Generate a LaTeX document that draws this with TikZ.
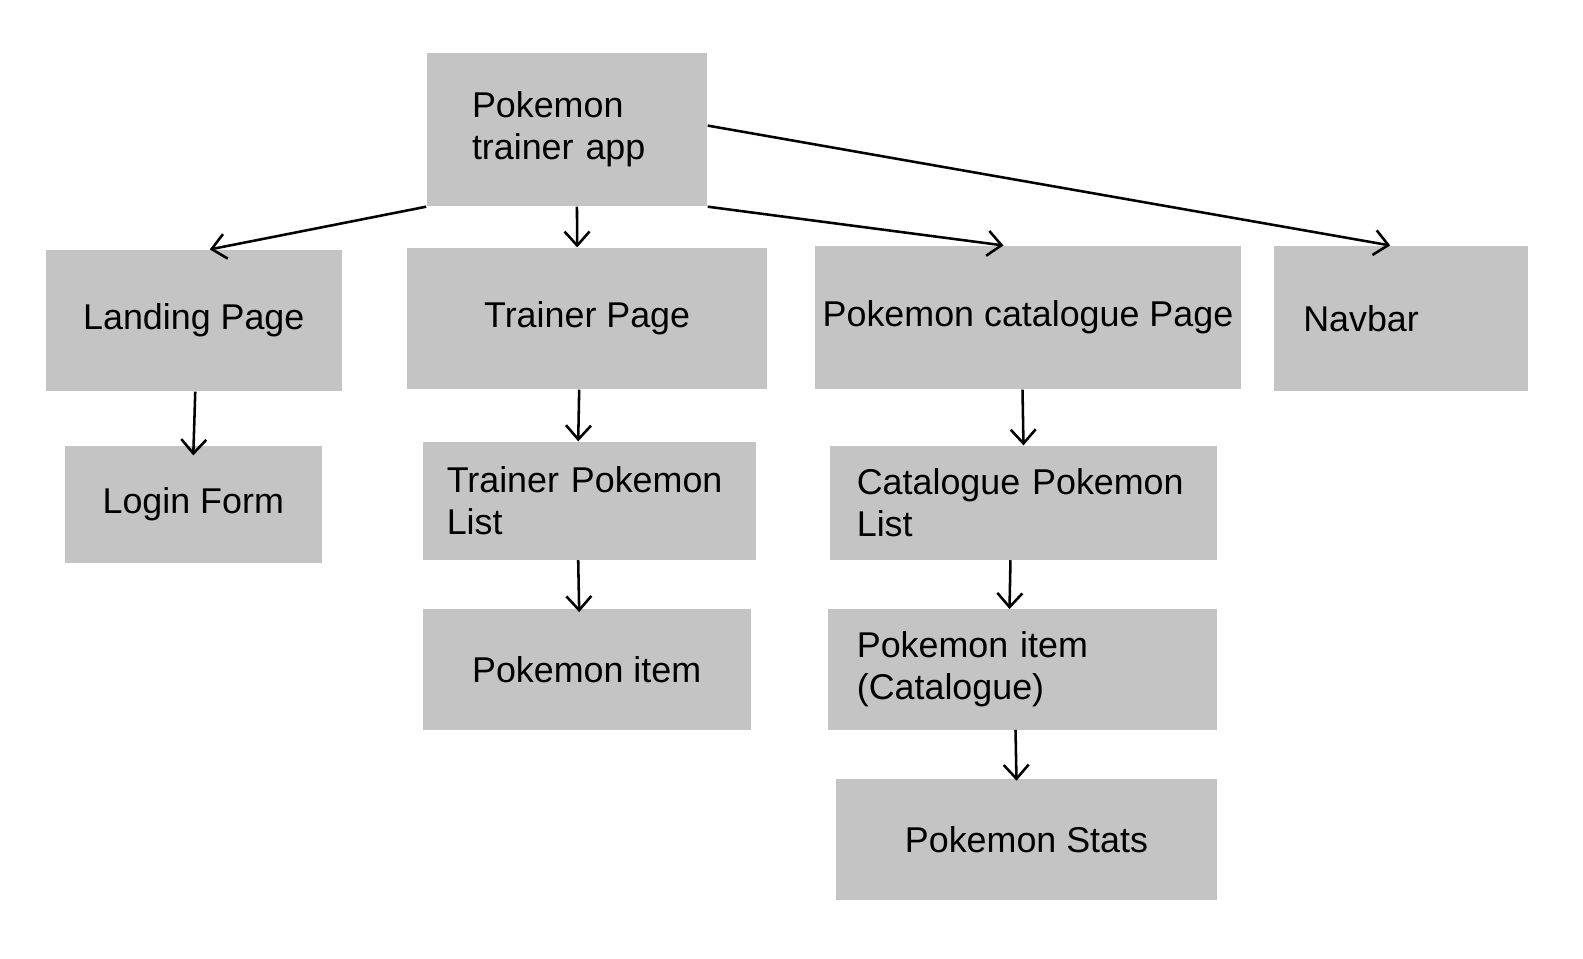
\documentclass[tikz,border=0pt]{standalone}
\usepackage{fontspec}
\setmainfont{Liberation Sans}
\usetikzlibrary{arrows.meta, positioning}

\definecolor{boxgray}{HTML}{C4C4C4}

\tikzset{
  page/.style={fill=boxgray, inner sep=0pt, anchor=north west, align=center,
    font=\fontsize{20.4}{23.8}\selectfont},
  leftpage/.style={page, align=left, inner ysep=0pt},
  link/.style={-{Straight Barb[length=0.28cm, width=0.5cm]}, line width=1.45pt}
}

\begin{document}
\begin{tikzpicture}
  \useasboundingbox (0,0) rectangle (31.66,19.16);

  % top level
  \node[leftpage, minimum width=5.616cm, minimum height=3.07cm, inner xsep=0.909cm, text width=3.798cm]
    (app) at (8.524,18.11) {Pokemon\\trainer app};

  % pages
  \node[page, minimum width=5.919cm, minimum height=2.828cm] (landing) at (0.909,14.171) {Landing Page};
  \node[page, minimum width=7.191cm, minimum height=2.828cm] (trainer) at (8.141,14.211) {Trainer Page};
  \node[page, minimum width=8.504cm, minimum height=2.868cm] (catalogue) at (16.301,14.251) {Pokemon catalogue Page};
  \node[leftpage, minimum width=5.07cm, minimum height=2.909cm, inner xsep=0.586cm, text width=3.899cm]
    (navbar) at (25.472,14.251) {Navbar};

  % components
  \node[page, minimum width=5.131cm, minimum height=2.343cm] (login) at (1.293,10.252) {Login Form};
  \node[leftpage, minimum width=6.666cm, minimum height=2.363cm, inner xsep=0.485cm, text width=5.696cm]
    (tlist) at (8.444,10.333) {Trainer Pokemon\\List};
  \node[page, minimum width=6.565cm, minimum height=2.404cm] (titem) at (8.444,6.979) {Pokemon item};
  \node[leftpage, minimum width=7.757cm, minimum height=2.283cm, inner xsep=0.545cm, text width=6.666cm]
    (clist) at (16.584,10.252) {Catalogue Pokemon\\List};
  \node[leftpage, minimum width=7.797cm, minimum height=2.404cm, inner xsep=0.586cm, text width=6.626cm]
    (citem) at (16.544,6.979) {Pokemon item\\(Catalogue)};
  \node[page, minimum width=7.636cm, minimum height=2.424cm] (stats) at (16.705,3.586) {Pokemon Stats};

  % links
  \draw[link] (app.south west) -- ([xshift=0.32cm]landing.north);
  \draw[link] ([xshift=0.2cm]app.south) -- ([xshift=-0.2cm]trainer.north);
  \draw[link] (app.south east) -- ([xshift=-0.49cm]catalogue.north);
  \draw[link] ([yshift=0.08cm]app.east) -- ([xshift=-0.21cm]navbar.north);

  \draw[link] ([xshift=0.03cm]landing.south) -- ([yshift=-0.2cm]login.north);
  \draw[link] ([xshift=-0.16cm]trainer.south) -- ([xshift=-0.22cm]tlist.north);
  \draw[link] ([xshift=-0.11cm]catalogue.south) -- (clist.north);
  \draw[link] ([xshift=-0.22cm]tlist.south) -- ([xshift=-0.15cm,yshift=-0.06cm]titem.north);
  \draw[link] ([xshift=-0.26cm]clist.south) -- ([xshift=-0.26cm]citem.north);
  \draw[link] ([xshift=-0.14cm]citem.south) -- ([xshift=-0.2cm,yshift=-0.04cm]stats.north);
\end{tikzpicture}
\end{document}
